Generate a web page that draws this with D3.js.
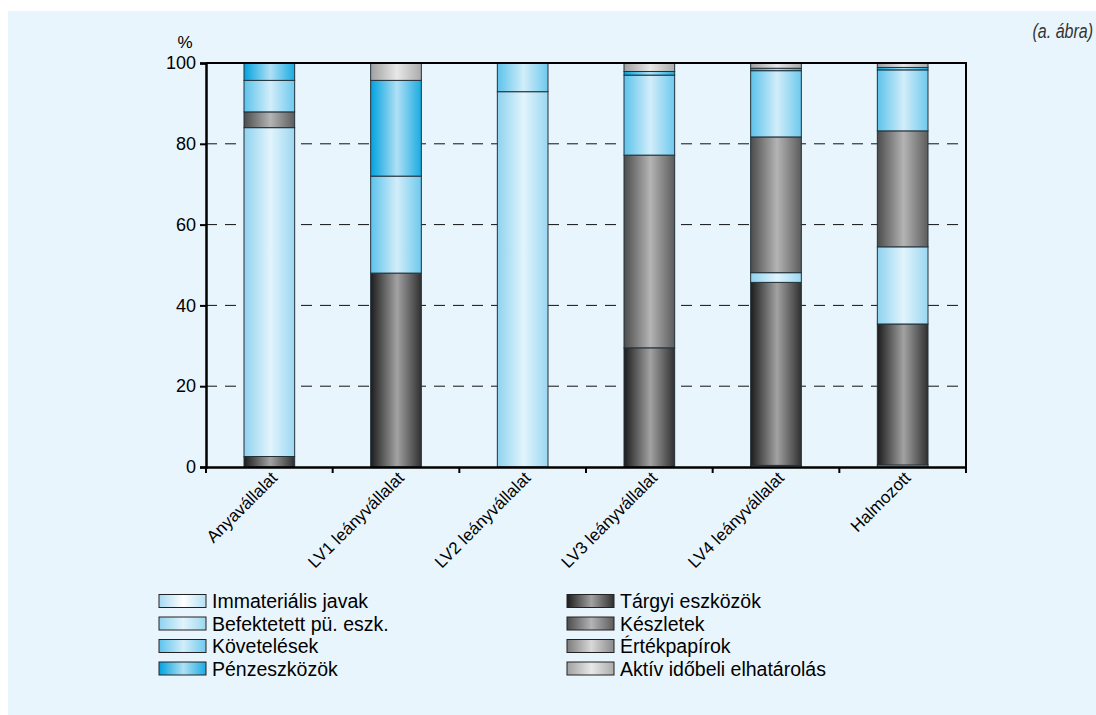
<!DOCTYPE html>
<html>
<head>
<meta charset="utf-8">
<script src="https://cdn.jsdelivr.net/npm/d3@7"></script>
<style>
  html, body { margin: 0; padding: 0; background: #ffffff; }
  svg { display: block; font-family: "Liberation Sans", Arial, sans-serif; }
</style>
</head>
<body>
<div id="chart"></div>
<script>
const CATEGORIES = [
  "Anyavállalat",
  "LV1 leányvállalat",
  "LV2 leányvállalat",
  "LV3 leányvállalat",
  "LV4 leányvállalat",
  "Halmozott"
];

// stacking order, bottom to top
const SERIES_NAMES = [
  "Immateriális javak",
  "Tárgyi eszközök",
  "Befektetett pü. eszk.",
  "Készletek",
  "Követelések",
  "Értékpapírok",
  "Pénzeszközök",
  "Aktív időbeli elhatárolás"
];

const IMMATERIALIS = [0, 0, 0, 0, 0.4, 0.5];
const TARGYI = [2.6, 48, 0, 29.5, 45.3, 34.9];
const BEFEKTETETT = [81.4, 0, 92.9, 0, 2.4, 19.1];
const KESZLETEK = [3.9, 0, 0, 47.7, 33.6, 28.7];
const KOVETELESEK = [7.8, 24, 7.1, 19.8, 16.4, 15.1];
const ERTEKPAPIROK = [0, 0, 0, 0, 0, 0];
const PENZESZKOZOK = [4.3, 23.7, 0, 0.9, 0.6, 0.6];
const AKTIV = [0, 4.3, 0, 2.1, 1.3, 1.1];

const Y_TICKS = [0, 20, 40, 60, 80, 100];
const GRID_TICKS = [20, 40, 60, 80];

// [edge, centre] of each series' bar gradient
const GRADIENTS = [
  ["#a6daf2", "#ffffff"],
  ["#1c1c1c", "#a2a2a2"],
  ["#8fd2ef", "#e2f4fc"],
  ["#4c4c4c", "#b4b4b4"],
  ["#5cc3ec", "#d2edf9"],
  ["#7c7c7c", "#d8d8d8"],
  ["#00a2df", "#b0e0f5"],
  ["#a0a0a0", "#e8e8e8"]
];

const values = [IMMATERIALIS, TARGYI, BEFEKTETETT, KESZLETEK, KOVETELESEK, ERTEKPAPIROK, PENZESZKOZOK, AKTIV];

const rows = CATEGORIES.map((c, i) => {
  const row = { category: c };
  SERIES_NAMES.forEach((s, j) => { row[s] = values[j][i]; });
  return row;
});

const W = 1096, H = 715;
const plot = { left: 206, top: 63, right: 966, bottom: 467 };

const svg = d3.select("#chart").append("svg")
  .attr("width", W)
  .attr("height", H);

svg.append("rect")
  .attr("x", 8).attr("y", 11)
  .attr("width", W - 8).attr("height", H - 11)
  .attr("fill", "#e9f5fc");

const defs = svg.append("defs");
GRADIENTS.forEach((g, i) => {
  const grad = defs.append("linearGradient")
    .attr("id", "grad" + i)
    .attr("x1", "0").attr("x2", "1").attr("y1", "0").attr("y2", "0");
  grad.append("stop").attr("offset", "0").attr("stop-color", g[0]);
  grad.append("stop").attr("offset", "0.52").attr("stop-color", g[1]);
  grad.append("stop").attr("offset", "1").attr("stop-color", d3.interpolateRgb(g[0], g[1])(0.15));
});

const x = d3.scaleBand()
  .domain(CATEGORIES)
  .range([plot.left, plot.right])
  .paddingInner(0.6)
  .paddingOuter(0.3);

const y = d3.scaleLinear()
  .domain([0, 100])
  .range([plot.bottom, plot.top]);

// dashed gridlines
svg.append("g")
  .selectAll("line")
  .data(GRID_TICKS)
  .enter()
  .append("line")
  .attr("x1", plot.left).attr("x2", plot.right)
  .attr("y1", d => y(d)).attr("y2", d => y(d))
  .attr("stroke", "#111")
  .attr("stroke-width", 1)
  .attr("stroke-dasharray", "11,8");

const stack = d3.stack().keys(SERIES_NAMES);
const stacked = stack(rows);

const layers = svg.append("g")
  .selectAll("g")
  .data(stacked)
  .enter()
  .append("g")
  .attr("fill", (d, i) => `url(#grad${i})`);

layers.selectAll("rect")
  .data(d => d.filter(p => p[1] - p[0] > 0))
  .enter()
  .append("rect")
  .attr("x", d => x(d.data.category))
  .attr("width", x.bandwidth())
  .attr("y", d => y(d[1]))
  .attr("height", d => y(d[0]) - y(d[1]))
  .attr("stroke", "#22313a")
  .attr("stroke-width", 1);

// frame: top and right
svg.append("line")
  .attr("x1", plot.left).attr("x2", plot.right)
  .attr("y1", plot.top).attr("y2", plot.top)
  .attr("stroke", "#000").attr("stroke-width", 2);
svg.append("line")
  .attr("x1", plot.right).attr("x2", plot.right)
  .attr("y1", plot.top - 1).attr("y2", plot.bottom)
  .attr("stroke", "#000").attr("stroke-width", 2);

// y axis
const yAxis = svg.append("g")
  .attr("transform", `translate(${plot.left},0)`)
  .call(d3.axisLeft(y).tickValues(Y_TICKS).tickSize(6).tickPadding(4));
yAxis.select(".domain").attr("stroke-width", 2.5);
yAxis.selectAll(".tick line").attr("stroke-width", 2);
yAxis.selectAll("text")
  .attr("font-size", 18)
  .attr("font-family", "Liberation Sans, Arial, sans-serif")
  .attr("fill", "#000");

svg.append("text")
  .attr("x", 185).attr("y", 48)
  .attr("text-anchor", "middle")
  .attr("font-size", 17)
  .text("%");

// x axis with ticks at the category boundaries
const step = x.step();
const boundaries = CATEGORIES.map(c => x(c) + x.bandwidth() / 2 - step / 2).concat([plot.right]);

const xAxis = svg.append("g")
  .attr("transform", `translate(0,${plot.bottom})`)
  .call(d3.axisBottom(x).tickSize(0).tickFormat(""));
xAxis.select(".domain").attr("stroke-width", 2.5);

svg.append("g")
  .selectAll("line")
  .data(boundaries)
  .enter()
  .append("line")
  .attr("x1", d => d).attr("x2", d => d)
  .attr("y1", plot.bottom).attr("y2", plot.bottom + 6)
  .attr("stroke", "#000").attr("stroke-width", 2);

svg.append("g")
  .selectAll("text")
  .data(CATEGORIES)
  .enter()
  .append("text")
  .attr("transform", d => `translate(${x(d) + x.bandwidth() / 2 + 9},${plot.bottom + 12}) rotate(-45)`)
  .attr("text-anchor", "end")
  .attr("font-size", 17)
  .text(d => d);

// figure tag
svg.append("text")
  .attr("transform", "translate(1093,38) scale(0.8,1)")
  .attr("text-anchor", "end")
  .attr("font-size", 20)
  .attr("font-style", "italic")
  .attr("fill", "#333")
  .text("(a. ábra)");

// legend, filled row by row in two columns
const legendCols = [159, 567];
const legendRows = [601, 623.5, 646, 668.5];

const legend = svg.append("g")
  .selectAll("g")
  .data(SERIES_NAMES)
  .enter()
  .append("g")
  .attr("transform", (d, i) => `translate(${legendCols[i % 2]},${legendRows[Math.floor(i / 2)]})`);

legend.append("rect")
  .attr("x", 0).attr("y", -6.5)
  .attr("width", 47).attr("height", 13)
  .attr("fill", (d, i) => `url(#grad${i})`)
  .attr("stroke", "#222")
  .attr("stroke-width", 1);

legend.append("text")
  .attr("x", 53)
  .attr("y", 0)
  .attr("dy", "0.36em")
  .attr("font-size", 19.5)
  .text(d => d);
</script>
</body>
</html>
